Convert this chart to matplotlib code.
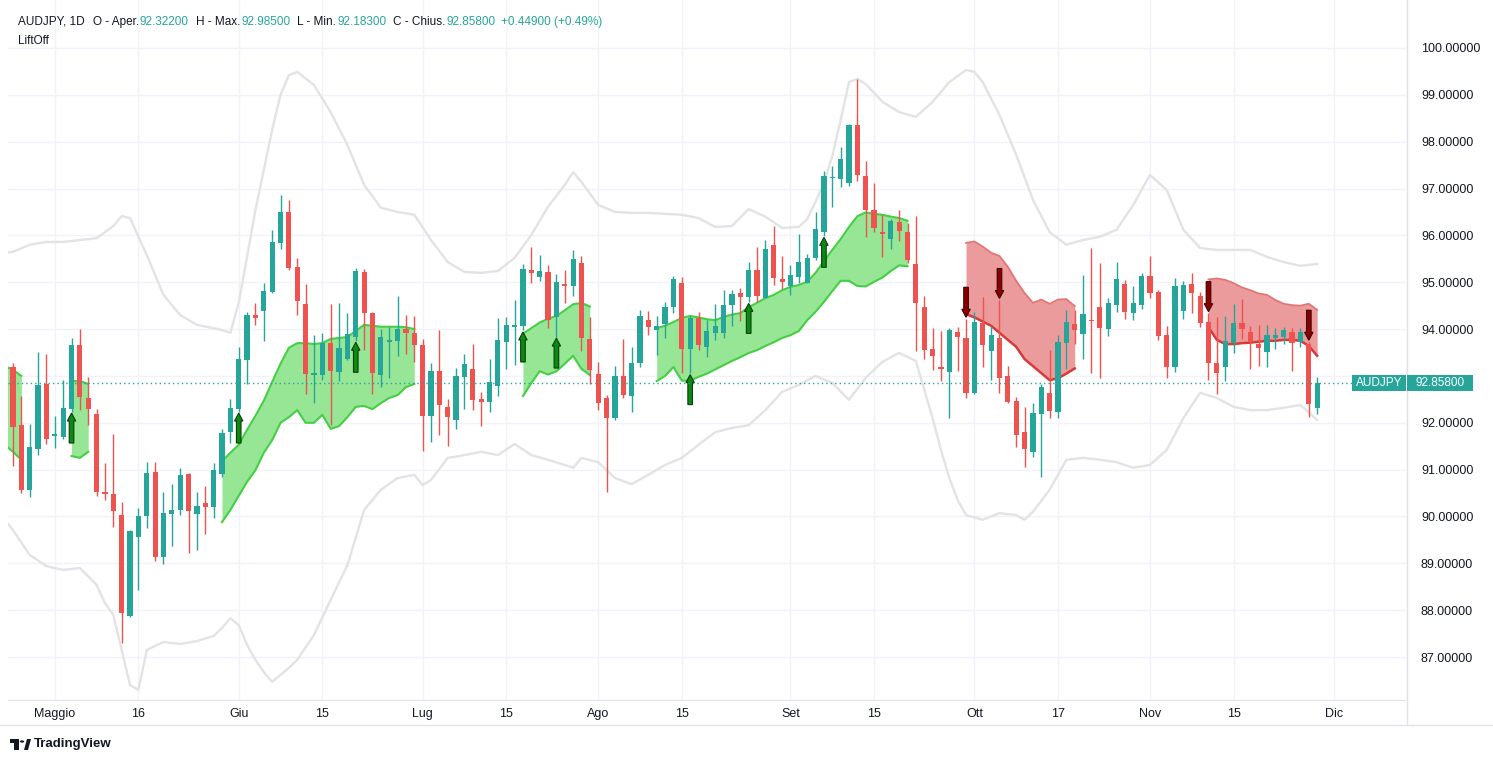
import matplotlib
matplotlib.use("Agg")
import matplotlib.pyplot as plt
import matplotlib.transforms as mtransforms
from matplotlib.patches import Rectangle, Polygon, Circle
from matplotlib.lines import Line2D

plt.rcParams['font.family'] = ['Liberation Sans', 'DejaVu Sans']

# ---------------- data ----------------
symbol = "AUDJPY"
timeframe = "1D"
indicator_name = "LiftOff"

opens = [93.18, 91.95, 90.57, 91.45, 92.83, 91.72, 91.70, 92.29, 93.66, 92.52,
         92.18, 90.52, 90.48, 90.03, 87.88, 89.57, 90.00, 90.95, 89.14, 90.06,
         90.14, 90.91, 90.06, 90.29, 90.21, 90.91, 91.81, 92.30, 93.33, 94.29,
         94.39, 94.80, 95.83, 96.49, 95.32, 94.54, 93.03, 93.03, 93.70, 93.09,
         93.36, 93.84, 95.22, 94.35, 93.03, 93.73, 93.75, 94.00, 93.92, 93.66,
         92.15, 93.11, 92.34, 92.07, 92.98, 93.15, 92.51, 92.45, 92.79, 93.73,
         94.05, 94.07, 95.26, 95.12, 95.22, 94.26, 94.95, 94.93, 95.40, 93.79,
         93.04, 92.53, 92.11, 93.00, 92.58, 93.28, 94.19, 93.97, 94.11, 94.48,
         94.98, 93.58, 94.23, 93.62, 93.92, 93.92, 94.51, 94.76, 94.69, 95.26,
         94.67, 95.80, 95.07, 94.91, 95.12, 94.99, 95.52, 96.08, 97.22, 97.20,
         97.11, 98.36, 97.27, 96.54, 96.07, 95.92, 96.29, 96.07, 95.39, 94.47,
         93.58, 93.18, 93.09, 93.93, 93.82, 92.64, 94.12, 93.54, 93.80, 93.00,
         92.47, 91.80, 91.38, 92.18, 92.63, 92.22, 93.71, 94.10, 93.90, 94.19,
         94.47, 94.00, 94.51, 94.96, 94.35, 94.51, 95.13, 94.79, 93.87, 93.20,
         94.39, 94.96, 94.71, 94.16, 93.27, 93.20, 93.70, 94.12, 93.94, 93.68,
         93.52, 93.82, 93.84, 93.94, 93.73, 93.68, 92.322]
highs = [93.28, 92.57, 91.97, 93.51, 93.47, 92.15, 92.91, 93.80, 94.00, 92.97,
         92.29, 91.14, 91.76, 90.31, 89.71, 90.18, 91.16, 91.16, 90.52, 90.69,
         91.04, 90.93, 90.52, 90.65, 91.14, 91.86, 92.50, 93.61, 94.36, 94.55,
         94.98, 96.11, 96.86, 96.76, 95.51, 94.96, 93.87, 93.91, 94.54, 94.56,
         94.35, 95.30, 95.28, 94.36, 94.01, 94.05, 94.71, 94.30, 94.28, 93.78,
         93.27, 93.98, 92.51, 93.16, 93.47, 93.68, 92.66, 93.36, 94.23, 94.25,
         94.62, 95.39, 95.75, 95.58, 95.36, 95.18, 95.26, 95.69, 95.55, 94.26,
         93.30, 92.60, 93.21, 93.79, 93.61, 94.41, 94.39, 94.28, 94.58, 95.13,
         95.11, 94.28, 94.37, 94.19, 94.54, 94.83, 94.83, 94.87, 95.43, 95.75,
         95.90, 96.19, 95.56, 95.37, 96.03, 95.60, 96.49, 97.38, 97.48, 97.88,
         98.38, 99.33, 97.59, 97.11, 96.44, 96.34, 96.54, 96.26, 96.42, 94.71,
         94.03, 93.96, 94.03, 94.05, 94.22, 94.36, 94.68, 94.07, 94.62, 93.21,
         92.56, 92.33, 92.42, 92.83, 93.55, 93.87, 94.41, 94.41, 95.15, 95.72,
         95.40, 94.66, 95.44, 95.05, 94.92, 95.19, 95.57, 94.83, 94.07, 95.08,
         95.03, 95.20, 94.80, 94.34, 94.25, 94.28, 94.53, 94.64, 94.07, 94.09,
         94.09, 94.02, 94.04, 94.02, 94.02, 93.73, 92.985]
lows = [91.08, 90.50, 90.42, 91.32, 91.55, 91.47, 91.65, 92.24, 92.27, 91.95,
        90.44, 90.35, 89.77, 87.29, 87.86, 88.43, 89.76, 89.06, 88.98, 89.36,
        90.04, 89.23, 89.29, 89.63, 89.97, 90.85, 91.56, 92.24, 92.82, 94.08,
        93.75, 94.78, 95.71, 95.26, 94.30, 92.61, 92.42, 92.91, 91.95, 92.90,
        93.35, 93.75, 93.55, 92.61, 92.76, 92.95, 93.43, 93.46, 93.30, 91.40,
        91.58, 91.73, 91.50, 91.87, 92.30, 92.27, 91.93, 92.22, 92.58, 93.14,
        93.23, 93.97, 94.99, 95.03, 94.03, 93.84, 94.55, 94.71, 93.54, 92.82,
        92.27, 90.52, 92.06, 92.52, 92.22, 93.18, 93.87, 93.45, 93.80, 94.35,
        93.06, 93.06, 93.55, 93.41, 93.77, 93.81, 94.07, 94.18, 94.58, 94.58,
        94.67, 94.94, 94.86, 94.73, 94.99, 94.98, 95.47, 95.99, 96.60, 97.04,
        97.06, 97.17, 95.97, 96.08, 95.53, 95.70, 95.87, 95.42, 93.54, 93.37,
        93.13, 92.89, 92.11, 93.11, 92.52, 92.61, 93.20, 92.91, 92.63, 92.42,
        91.48, 91.06, 91.28, 90.84, 92.10, 92.10, 93.14, 93.68, 93.36, 93.07,
        92.95, 93.86, 94.37, 94.22, 94.19, 94.43, 94.66, 93.77, 92.95, 93.09,
        94.22, 94.35, 94.05, 92.91, 92.61, 92.90, 93.48, 93.79, 93.14, 93.21,
        93.18, 93.57, 93.68, 93.11, 93.61, 92.13, 92.183]
closes = [91.92, 90.57, 91.48, 92.81, 91.66, 91.76, 92.32, 93.66, 92.54, 92.29,
          90.53, 90.47, 90.12, 87.93, 89.70, 90.01, 90.93, 89.14, 90.07, 90.14,
          90.89, 90.12, 90.22, 90.21, 90.99, 91.78, 92.31, 93.36, 94.29, 94.24,
          94.81, 95.86, 96.49, 95.30, 94.61, 93.04, 93.06, 93.70, 93.11, 93.60,
          93.90, 95.24, 94.34, 93.06, 93.83, 93.77, 94.00, 93.92, 93.65, 92.15,
          93.11, 92.39, 92.13, 93.00, 93.26, 92.49, 92.45, 92.86, 93.77, 94.09,
          94.09, 95.28, 95.19, 95.24, 94.19, 95.00, 94.93, 95.50, 93.80, 93.13,
          92.43, 92.11, 93.00, 92.59, 93.27, 94.28, 94.05, 94.07, 94.48, 95.06,
          93.58, 94.23, 93.65, 93.96, 94.07, 94.51, 94.75, 94.69, 95.26, 94.71,
          95.71, 95.08, 95.01, 95.15, 95.43, 95.52, 96.13, 97.27, 97.25, 97.62,
          98.36, 97.29, 96.54, 96.16, 96.02, 96.31, 96.09, 95.47, 94.56, 93.55,
          93.43, 93.15, 93.98, 93.84, 92.63, 94.15, 93.66, 93.87, 92.95, 92.45,
          91.74, 91.44, 92.20, 92.76, 92.26, 93.72, 94.15, 93.97, 94.32, 94.17,
          94.03, 94.55, 95.06, 94.37, 94.55, 95.13, 94.78, 93.85, 93.20, 94.92,
          94.94, 94.76, 94.12, 93.28, 93.06, 93.75, 94.12, 94.00, 93.73, 93.60,
          93.87, 93.87, 93.98, 93.70, 93.94, 92.40, 92.858]

# grey envelope (upper / lower)
env_upper_idx = [-1, 0, 2, 4, 6, 8, 10, 12, 13, 14,
                 16, 18, 20, 22, 24, 25, 26, 27, 28, 29,
                 30, 31, 32, 33, 34, 36, 38, 40, 42, 44,
                 46, 48, 50, 52, 54, 56, 58, 60, 62, 64,
                 66, 67, 68, 70, 72, 74, 76, 78, 80, 82,
                 84, 86, 88, 90, 92, 94, 95, 96, 97, 98,
                 99, 100, 101, 102, 104, 106, 108, 110, 112, 114,
                 115, 116, 118, 120, 122, 124, 126, 128, 130, 132,
                 134, 135, 136, 138, 140, 142, 144, 146, 148, 150,
                 152, 154, 156]
env_upper_val = [95.63, 95.65, 95.80, 95.86, 95.86, 95.90, 95.94, 96.20, 96.41, 96.37,
                 95.58, 94.73, 94.30, 94.09, 94.02, 93.98, 93.92, 94.56, 95.54, 96.54,
                 97.40, 98.25, 99.00, 99.42, 99.49, 99.21, 98.63, 97.93, 97.08, 96.59,
                 96.50, 96.44, 95.90, 95.43, 95.22, 95.20, 95.24, 95.52, 96.01, 96.61,
                 97.08, 97.35, 97.14, 96.65, 96.50, 96.48, 96.48, 96.46, 96.44, 96.37,
                 96.18, 96.20, 96.56, 96.40, 96.16, 96.18, 96.35, 96.72, 97.12, 97.69,
                 98.46, 99.27, 99.34, 99.23, 98.85, 98.63, 98.53, 98.85, 99.27, 99.53,
                 99.49, 99.27, 98.57, 97.72, 96.76, 96.07, 95.80, 95.90, 95.97, 96.12,
                 96.65, 96.97, 97.29, 96.97, 96.12, 95.73, 95.69, 95.69, 95.69, 95.54,
                 95.43, 95.35, 95.39]
env_lower_idx = [-1, 0, 2, 4, 6, 8, 10, 11, 12, 13,
                 14, 15, 16, 17, 18, 20, 22, 24, 25, 26,
                 27, 28, 29, 30, 31, 32, 33, 34, 36, 38,
                 40, 42, 44, 46, 48, 49, 50, 52, 54, 56,
                 58, 60, 62, 64, 66, 67, 68, 70, 72, 74,
                 76, 78, 80, 82, 84, 86, 88, 90, 92, 94,
                 96, 98, 100, 102, 104, 106, 108, 110, 111, 112,
                 113, 114, 116, 118, 120, 121, 122, 124, 126, 128,
                 130, 132, 134, 136, 138, 140, 142, 144, 146, 148,
                 150, 152, 154, 156]
env_lower_val = [89.93, 89.71, 89.18, 88.94, 88.86, 88.90, 88.54, 88.15, 87.90, 87.15,
                 86.40, 86.30, 87.15, 87.24, 87.32, 87.28, 87.34, 87.45, 87.62, 87.83,
                 87.68, 87.26, 86.94, 86.68, 86.47, 86.62, 86.77, 86.94, 87.47, 88.22,
                 88.96, 90.14, 90.57, 90.82, 90.89, 90.67, 90.78, 91.25, 91.31, 91.38,
                 91.31, 91.55, 91.31, 91.21, 91.10, 91.04, 91.25, 91.16, 90.82, 90.69,
                 90.89, 91.10, 91.25, 91.53, 91.80, 91.89, 91.95, 92.27, 92.66, 92.81,
                 93.00, 92.85, 92.49, 92.96, 93.30, 93.49, 93.32, 92.10, 91.42, 90.82,
                 90.35, 90.03, 89.93, 90.07, 90.03, 89.93, 90.10, 90.57, 91.21, 91.25,
                 91.21, 91.16, 91.04, 91.10, 91.42, 92.10, 92.64, 92.53, 92.34, 92.27,
                 92.27, 92.32, 92.38, 92.06]

# LiftOff bullish zones (start bar, upper edge, lower edge)
bull1_start = -1
bull1_top = [93.21, 93.13, 93.00]
bull1_bot = [91.53, 91.38, 91.21]
bull2_start = 7
bull2_top = [92.89, 92.89, 92.83]
bull2_bot = [91.29, 91.25, 91.38]
bull3_start = 25
bull3_top = [91.18, 91.36, 91.53, 91.85, 92.15, 92.47, 92.87, 93.26, 93.60, 93.70,
             93.70, 93.68, 93.70, 93.79, 93.81, 93.83, 93.96, 94.09, 94.07, 94.05,
             94.05, 94.05, 94.04, 94.00]
bull3_bot = [89.88, 90.14, 90.44, 90.74, 90.99, 91.36, 91.63, 92.00, 92.12, 92.27,
             92.00, 92.00, 92.17, 91.87, 91.93, 92.12, 92.34, 92.36, 92.29, 92.42,
             92.53, 92.59, 92.76, 92.83]
bull4_start = 61
bull4_top = [93.90, 94.02, 94.14, 94.22, 94.28, 94.40, 94.53, 94.56, 94.48]
bull4_bot = [92.57, 92.85, 93.10, 93.03, 93.10, 93.26, 93.43, 93.15, 93.02]
bull5_start = 77
bull5_top = [94.02, 94.07, 94.15, 94.24, 94.28, 94.25, 94.21, 94.19, 94.26, 94.31,
             94.34, 94.47, 94.56, 94.66, 94.73, 94.83, 94.90, 94.94, 95.01, 95.20,
             95.45, 95.69, 95.92, 96.18, 96.41, 96.49, 96.46, 96.44, 96.40, 96.37,
             96.31]
bull5_bot = [92.89, 93.00, 93.19, 92.90, 92.90, 92.98, 93.05, 93.14, 93.23, 93.32,
             93.40, 93.49, 93.55, 93.64, 93.72, 93.81, 93.87, 93.96, 94.19, 94.37,
             94.58, 94.81, 95.03, 95.03, 94.92, 94.91, 95.01, 95.10, 95.24, 95.36,
             95.34]
# LiftOff bearish zones
bear1_start = 114
bear1_top = [95.84, 95.87, 95.76, 95.63, 95.56, 95.33, 95.03, 94.77, 94.56, 94.63,
             94.54, 94.63, 94.64, 94.49]
bear1_bot = [94.32, 94.25, 94.16, 94.07, 93.92, 93.77, 93.62, 93.36, 93.21, 93.06,
             92.91, 92.95, 93.05, 93.16]
bear2_start = 143
bear2_top = [95.06, 95.08, 95.05, 94.98, 94.89, 94.83, 94.76, 94.73, 94.62, 94.54,
             94.51, 94.50, 94.54, 94.41]
bear2_bot = [94.04, 93.77, 93.68, 93.68, 93.70, 93.71, 93.73, 93.75, 93.75, 93.77,
             93.77, 93.75, 93.64, 93.43]

buy_signal_bars = [7, 27, 41, 61, 65, 81, 88, 97]
sell_signal_bars = [114, 118, 143, 155]

xtick_bars = [5, 15, 27, 37, 49, 59, 70, 80, 93, 103, 115, 125, 136, 146, 158]
xtick_labels = ["Maggio", "16", "Giu", "15", "Lug", "15", "Ago", "15", "Set", "15",
                "Ott", "17", "Nov", "15", "Dic"]
price_ticks = [87, 88, 89, 90, 91, 92, 93, 94, 95, 96, 97, 98, 99, 100]
# scale labels hidden behind the last-price tag in the reference
price_ticks_hidden = [93]

header_open = 92.322
header_high = 92.985
header_low = 92.183
header_close = 92.858
header_change = 0.449
header_change_pct = 0.49

# ---------------- style ----------------
W, H = 1493, 762
UP = '#26a69a'
DN = '#ef5350'
TXT = '#131722'
GRID = '#f0f3fa'
SEP = '#e0e3eb'

fig = plt.figure(figsize=(W / 100, H / 100), dpi=100)
fig.patch.set_facecolor('white')
AX_L, AX_R, AX_T, AX_B = 8, 1407, 0, 700
ax = fig.add_axes([AX_L / W, 1 - AX_B / H, (AX_R - AX_L) / W, (AX_B - AX_T) / H])
xmin, xmax = -0.598, 166.746
ymin, ymax = 86.083, 101.024
ax.set_xlim(xmin, xmax)
ax.set_ylim(ymin, ymax)
px_x = (xmax - xmin) / (AX_R - AX_L)
px_y = (ymax - ymin) / (AX_B - AX_T)

for s in ['top', 'left']:
    ax.spines[s].set_visible(False)
ax.spines['right'].set_color(SEP)
ax.spines['bottom'].set_color(SEP)

ax.set_xticks(xtick_bars)
ax.set_xticklabels(xtick_labels)
ax.set_yticks(price_ticks)
ax.set_yticklabels(["" if v in price_ticks_hidden else f"{v:.5f}" for v in price_ticks])
ax.yaxis.tick_right()
ax.tick_params(axis='y', length=0, pad=10, labelsize=9, labelcolor=TXT)
ax.tick_params(axis='x', length=0, pad=6, labelsize=9, labelcolor=TXT)
ax.grid(True, color=GRID, lw=1.0, zorder=0)
ax.set_axisbelow(True)

# envelope lines
ax.plot(env_upper_idx, env_upper_val, color='#e3e3e3', lw=1.7, zorder=1, solid_joinstyle='round')
ax.plot(env_lower_idx, env_lower_val, color='#e3e3e3', lw=1.7, zorder=1, solid_joinstyle='round')

# LiftOff zones
def zone(start, top, bot, fc, ec_top, ec_bot, lw_top, lw_bot):
    xs = list(range(start, start + len(top)))
    ax.fill_between(xs, bot, top, color=fc, lw=0, zorder=2)
    ax.plot(xs, top, color=ec_top, lw=lw_top, zorder=3, solid_joinstyle='round')
    ax.plot(xs, bot, color=ec_bot, lw=lw_bot, zorder=3, solid_joinstyle='round')

G_FILL, G_LINE = '#96e696', '#44cf44'
R_FILL, R_TOP, R_BOT = '#eb9b9b', '#e27676', '#d63a3a'
for st, tp, bt in [(bull1_start, bull1_top, bull1_bot), (bull2_start, bull2_top, bull2_bot),
                   (bull3_start, bull3_top, bull3_bot), (bull4_start, bull4_top, bull4_bot),
                   (bull5_start, bull5_top, bull5_bot)]:
    zone(st, tp, bt, G_FILL, G_LINE, G_LINE, 1.5, 1.5)
for st, tp, bt in [(bear1_start, bear1_top, bear1_bot), (bear2_start, bear2_top, bear2_bot)]:
    zone(st, tp, bt, R_FILL, R_TOP, R_BOT, 1.3, 1.8)

# candles
n = len(opens)
xs = list(range(n))
colors = [UP if c >= o else DN for o, c in zip(opens, closes)]
ax.vlines(xs, lows, highs, colors=colors, lw=1.0, zorder=4)
bottoms = [min(o, c) for o, c in zip(opens, closes)]
heights = [max(abs(c - o), 1.2 * px_y) for o, c in zip(opens, closes)]
ax.bar(xs, heights, bottom=bottoms, width=0.62, color=colors, lw=0, zorder=5)

# signal arrows
def arrow(i, up):
    L, head, hw, sw, gap = 30, 8, 4.2, 2.3, 1.5
    x = i
    if up:
        tip = lows[i] - gap * px_y
        d = -1
        fc, ec = '#0b8a12', '#0b3d0b'
    else:
        tip = highs[i] + gap * px_y
        d = 1
        fc, ec = '#8a0000', '#3d0000'
    pts = [(x, tip),
           (x + hw * px_x, tip + d * head * px_y),
           (x + sw * px_x, tip + d * head * px_y),
           (x + sw * px_x, tip + d * L * px_y),
           (x - sw * px_x, tip + d * L * px_y),
           (x - sw * px_x, tip + d * head * px_y),
           (x - hw * px_x, tip + d * head * px_y)]
    ax.add_patch(Polygon(pts, closed=True, fc=fc, ec=ec, lw=0.8, zorder=6))

for i in buy_signal_bars:
    arrow(i, True)
for i in sell_signal_bars:
    arrow(i, False)

# last price line
ax.axhline(closes[-1], color=UP, lw=1.0, ls=(0, (1, 2.2)), zorder=7)

# last price labels on the scale
blend = mtransforms.blended_transform_factory(fig.transFigure, ax.transData)
bh = 16 * px_y
fig.add_artist(Rectangle((1352 / W, closes[-1] - bh / 2), 54 / W, bh, transform=blend,
                         fc=UP, ec='none', zorder=10, clip_on=False))
fig.add_artist(Rectangle((1407 / W, closes[-1] - bh / 2), 66 / W, bh, transform=blend,
                         fc=UP, ec='none', zorder=10, clip_on=False))
fig.text(1379 / W, closes[-1], symbol, transform=blend, ha='center', va='center',
         color='white', fontsize=8.5, zorder=11)
fig.text(1440 / W, closes[-1], f"{closes[-1]:.5f}", transform=blend, ha='center', va='center',
         color='white', fontsize=8.5, zorder=11)

# header
renderer = fig.canvas.get_renderer()
def seq(x_px, y_px, pieces, size):
    x = x_px
    for s, col, gap in pieces:
        t = fig.text(x / W, 1 - y_px / H, s, color=col, fontsize=size, ha='left', va='center')
        x += t.get_window_extent(renderer).width + gap

seq(18, 22, [(f"{symbol}, {timeframe}", TXT, 8),
             ("O - Aper.", TXT, 1), (f"{header_open:.5f}", UP, 7),
             ("H - Max.", TXT, 1), (f"{header_high:.5f}", UP, 7),
             ("L - Min.", TXT, 1), (f"{header_low:.5f}", UP, 7),
             ("C - Chius.", TXT, 1), (f"{header_close:.5f}", UP, 5),
             (f"+{header_change:.5f} (+{header_change_pct:.2f}%)", UP, 0)], 8.5)
fig.text(18 / W, 1 - 41 / H, indicator_name, color=TXT, fontsize=8.5, ha='left', va='center')

# separators
fig.add_artist(Line2D([0, 1], [1 - 725 / H, 1 - 725 / H], color=SEP, lw=1))
fig.add_artist(Line2D([AX_R / W, AX_R / W], [1 - 725 / H, 1], color=SEP, lw=1))

# TradingView logo
fig.add_artist(Rectangle((10 / W, 1 - 743 / H), 9 / W, 4 / H, fc='#131722', ec='none'))
fig.add_artist(Rectangle((14 / W, 1 - 750 / H), 5 / W, 10 / H, fc='#131722', ec='none'))
fig.add_artist(Circle((22 / W, 1 - 741.5 / H), 2.2 / W, fc='#131722', ec='none'))
fig.add_artist(Polygon([(24 / W, 1 - 750 / H), (27 / W, 1 - 739 / H), (31 / W, 1 - 739 / H),
                        (28 / W, 1 - 750 / H)], closed=True, fc='#131722', ec='none'))
fig.text(34 / W, 1 - 744.5 / H, "TradingView", color='#131722', fontsize=9.5, ha='left',
         va='center', fontweight='bold')

fig.savefig("out.png", dpi=100, facecolor='white')
